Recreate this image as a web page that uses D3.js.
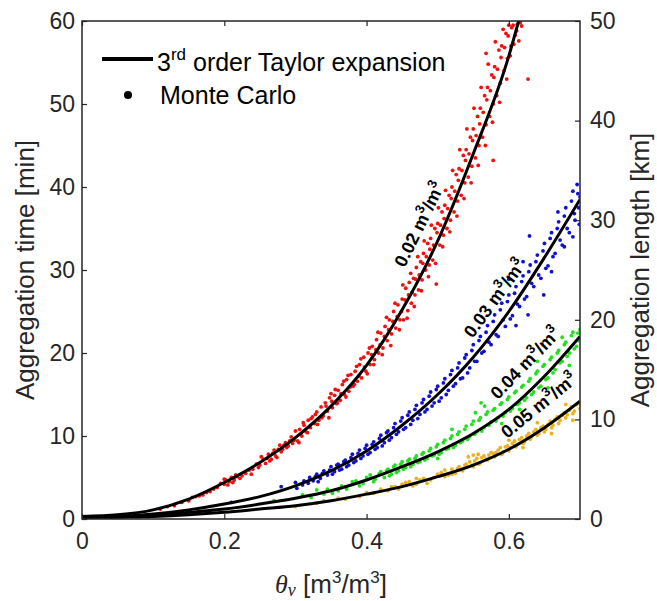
<!DOCTYPE html>
<html>
<head>
<meta charset="utf-8">
<script src="https://cdn.jsdelivr.net/npm/d3@7"></script>
<style>
  body { margin: 0; background: #fff; }
  svg { display: block; font-family: Arial, "Liberation Sans", sans-serif; }
</style>
</head>
<body>
<svg id="chart"></svg>
<script>
// canvas + plot box
var width = 657, height = 601;
var margin = {left: 82, right: 77, top: 21, bottom: 82};

// axis ticks
var xTicks = [0, 0.2, 0.4, 0.6];
var timeTicks = [0, 10, 20, 30, 40, 50, 60];
var lengthTicks = [0, 10, 20, 30, 40, 50];

// series names (sigma of theta) and colours
var seriesLabels = ["0.02", "0.03", "0.04", "0.05"];
var seriesColors = ["#f01010", "#1010d0", "#20e020", "#edb120"];

// 3rd order Taylor expansion curves, [theta, time in min]
var taylor002 = [[0,0.3],[0.05,0.5],[0.1,1.1],[0.15,2.4],[0.2,4.4],[0.25,6.8],[0.3,9.8],[0.35,13.6],[0.4,18.5],[0.45,25.2],[0.5,33.5],[0.55,44],[0.6,55.8],[0.62,62]];
var taylor003 = [[0,0.2],[0.05,0.3],[0.1,0.6],[0.15,1.1],[0.2,1.8],[0.25,2.7],[0.3,4.0],[0.35,5.8],[0.4,8.2],[0.45,11.3],[0.5,15.0],[0.55,19.5],[0.6,25.0],[0.65,31.5],[0.7,38.5]];
var taylor004 = [[0,0.15],[0.05,0.25],[0.1,0.45],[0.15,0.8],[0.2,1.2],[0.25,1.8],[0.3,2.5],[0.35,3.4],[0.4,4.7],[0.45,6.3],[0.5,8.1],[0.55,10.3],[0.6,13.2],[0.65,17.2],[0.7,22.0]];
var taylor005 = [[0,0.1],[0.05,0.2],[0.1,0.3],[0.15,0.5],[0.2,0.8],[0.25,1.2],[0.3,1.6],[0.35,2.2],[0.4,3.0],[0.45,3.9],[0.5,5.1],[0.55,6.5],[0.6,8.4],[0.65,11.0],[0.7,14.2]];

// Monte Carlo samples, [theta, time in min]
var mc002 = [
  [0.12,1.5],[0.13,1.6],[0.14,2.0],[0.155,2.6],[0.16,2.7],[0.17,2.9],[0.18,3.3],[0.19,3.8],[0.2,4.2],[0.202,4.7],
  [0.207,4.5],[0.21,5.0],[0.214,4.7],[0.218,5.1],[0.222,4.9],[0.23,5.5],[0.24,6.0],[0.245,6.6],[0.25,6.5],[0.255,7.2],
  [0.26,7.3],[0.264,7.0],[0.268,7.9],[0.272,7.6],[0.276,8.4],[0.28,8.1],[0.284,8.9],[0.288,8.6],[0.292,9.4],[0.296,9.1],
  [0.3,10.6],[0.303,9.4],[0.306,10.8],[0.309,10.0],[0.312,11.3],[0.315,10.5],[0.318,11.9],[0.321,11.0],[0.324,12.3],[0.327,11.5],
  [0.33,12.9],[0.333,11.9],[0.336,13.5],[0.339,12.4],[0.342,14.0],[0.345,13.0],[0.348,14.6],[0.35,15.1],[0.352,13.4],[0.355,14.9],
  [0.358,13.9],[0.36,15.5],[0.363,14.3],[0.366,16.2],[0.369,15.0],[0.372,16.8],[0.375,15.4],[0.378,17.4],[0.381,16.0],[0.384,17.8],
  [0.387,16.6],[0.39,18.6],[0.393,17.0],[0.396,19.5],[0.399,17.8],[0.402,20.0],[0.405,18.6],[0.408,20.8],[0.411,19.2],[0.414,21.6],
  [0.417,20.0],[0.42,22.4],[0.423,20.6],[0.426,23.2],[0.429,21.5],[0.432,24.0],[0.435,22.3],[0.438,25.0],[0.441,23.0],[0.444,25.8],
  [0.447,24.0],[0.45,26.5],[0.452,24.0],[0.455,27.8],[0.458,25.1],[0.46,28.5],[0.463,26.0],[0.466,29.0],[0.468,27.0],[0.47,30.3],
  [0.473,27.6],[0.476,31.0],[0.478,28.8],[0.48,32.0],[0.483,30.0],[0.486,33.2],[0.488,30.6],[0.49,33.8],[0.493,31.2],[0.496,35.0],
  [0.498,28.3],[0.5,35.6],[0.503,33.0],[0.506,37.0],[0.508,34.2],[0.51,37.8],[0.513,35.0],[0.516,39.0],[0.518,36.0],[0.52,40.0],
  [0.523,37.0],[0.526,41.5],[0.528,38.3],[0.53,42.2],[0.533,39.0],[0.536,43.8],[0.538,40.5],[0.54,44.5],[0.543,41.2],[0.546,46.0],
  [0.548,42.5],[0.55,47.0],[0.553,43.5],[0.556,48.5],[0.558,45.0],[0.56,49.5],[0.563,46.0],[0.566,51.0],[0.568,56.1],[0.568,47.5],
  [0.57,52.0],[0.573,48.5],[0.576,53.5],[0.578,43.2],[0.578,50.0],[0.58,54.5],[0.583,51.0],[0.586,56.5],[0.588,52.5],[0.59,57.0],
  [0.593,54.0],[0.596,58.5],[0.598,55.5],[0.6,59.5],[0.603,57.0],[0.606,59.5],[0.609,58.3],[0.612,59.6],[0.616,59.8],[0.627,53.0]
];
var mc002more = [
  [0.11,1.2],[0.15,2.2],[0.165,2.8],[0.175,3.2],[0.185,3.6],[0.195,4.3],[0.2,4.8],[0.205,4.1],[0.212,4.4],[0.216,5.3],
  [0.225,5.2],[0.235,5.9],[0.238,5.4],[0.248,6.2],[0.252,7.5],[0.258,6.7],[0.262,7.8],[0.266,7.2],[0.27,8.3],[0.274,7.4],
  [0.278,8.9],[0.282,8.4],[0.286,9.2],[0.29,8.8],[0.294,9.9],[0.298,9.5],
  [0.305,9.2],[0.311,11.6],[0.317,10.4],[0.322,12.1],[0.328,12.6],[0.331,11.4],[0.337,12.2],[0.343,13.6],[0.347,12.2],[0.351,14.2],
  [0.356,15.6],[0.359,14.0],[0.364,15.1],[0.368,16.6],[0.371,14.7],[0.374,17.3],[0.377,15.9],[0.383,16.2],[0.386,18.4],[0.389,17.2],
  [0.392,19.3],[0.397,18.3],[0.401,17.5],[0.404,20.6],[0.407,19.8],[0.41,18.6],[0.413,20.4],[0.416,22.5],[0.419,21.0],[0.422,19.8],
  [0.425,22.0],[0.428,24.3],[0.431,22.8],[0.434,20.9],[0.437,23.8],[0.44,26.0],[0.443,24.4],[0.446,22.8],[0.449,25.0],[0.451,28.2],
  [0.454,26.4],[0.457,24.2],[0.459,27.0],[0.462,29.6],[0.464,27.3],[0.467,25.6],[0.469,28.9],[0.472,31.6],[0.474,29.4],[0.477,27.5],
  [0.479,30.8],[0.481,33.5],[0.484,31.6],[0.487,29.2],[0.489,32.5],[0.491,35.4],[0.494,33.0],[0.497,30.8],[0.499,34.5],[0.501,37.5],
  [0.504,35.4],[0.507,32.8],[0.509,36.2],[0.511,39.6],[0.514,37.4],[0.517,34.6],[0.519,38.6],[0.521,42.0],[0.524,39.5],[0.527,36.5],
  [0.529,40.8],[0.531,44.5],[0.534,42.0],[0.537,38.6],[0.539,43.2],[0.541,47.0],[0.544,44.0],[0.547,40.5],[0.549,45.6],[0.551,49.5],
  [0.554,46.2],[0.557,42.6],[0.559,47.6],[0.561,52.0],[0.564,49.0],[0.567,45.0],[0.569,50.5],[0.571,54.8],[0.574,51.6],[0.577,47.8],
  [0.579,53.2],[0.581,57.5],[0.584,54.2],[0.587,50.2],[0.589,55.6],[0.592,59.0],[0.594,56.8],[0.597,53.0],[0.599,58.2],[0.602,55.8],
  [0.604,59.2],[0.607,57.2],[0.611,58.8],[0.614,57.6],[0.618,59.4]
];
var mc003 = [
  [0.21,2.0],[0.28,3.9],[0.3,4.4],[0.31,4.1],[0.32,5.0],[0.325,4.6],[0.33,5.4],[0.335,4.9],[0.34,5.8],[0.345,5.3],
  [0.35,6.3],[0.355,5.7],[0.36,6.6],[0.365,6.0],[0.37,7.1],[0.375,6.5],[0.38,7.8],[0.385,7.0],[0.39,8.3],[0.395,7.6],
  [0.4,8.9],[0.405,8.0],[0.41,9.3],[0.415,8.6],[0.42,10.1],[0.425,9.2],[0.43,10.6],[0.435,9.8],[0.44,11.5],[0.445,10.5],
  [0.45,12.2],[0.455,11.0],[0.46,12.9],[0.465,11.9],[0.47,13.7],[0.475,12.6],[0.48,14.4],[0.485,13.2],[0.49,15.3],[0.495,14.0],
  [0.5,16.0],[0.505,14.6],[0.51,16.9],[0.515,15.5],[0.52,17.9],[0.525,16.3],[0.53,18.8],[0.535,17.0],[0.54,19.8],[0.545,18.2],
  [0.55,21.0],[0.555,19.0],[0.56,22.0],[0.565,20.2],[0.57,23.3],[0.575,21.0],[0.58,24.6],[0.585,22.0],[0.59,26.0],[0.595,23.2],
  [0.6,27.0],[0.605,24.5],[0.61,28.0],[0.615,25.6],[0.62,29.3],[0.625,26.8],[0.627,24.6],[0.629,34.1],[0.63,30.6],[0.635,28.0],
  [0.64,31.8],[0.645,29.0],[0.649,27.0],[0.65,33.2],[0.655,30.5],[0.66,34.5],[0.665,32.0],[0.669,37.0],[0.67,35.8],[0.675,33.0],
  [0.678,32.8],[0.68,37.5],[0.685,34.5],[0.69,39.5],[0.693,36.0],[0.696,40.3],[0.698,37.5],[0.7,38.8]
];
var mc003more = [
  [0.302,3.7],[0.312,4.6],[0.318,4.3],[0.328,5.1],[0.332,4.5],[0.338,5.5],[0.348,5.9],[0.352,5.4],[0.358,6.5],[0.362,5.9],
  [0.368,6.9],[0.372,6.3],[0.378,7.4],[0.382,6.8],[0.388,7.9],[0.392,7.3],[0.398,8.5],[0.402,7.8],[0.408,9.0],[0.412,8.4],
  [0.418,9.7],[0.422,8.8],[0.428,10.4],[0.432,9.5],[0.438,11.0],[0.442,10.2],[0.448,11.8],[0.452,10.8],[0.458,12.5],[0.462,11.4],
  [0.468,13.2],[0.472,12.1],[0.478,14.0],[0.482,12.9],[0.488,14.8],[0.492,13.6],[0.498,15.6],[0.502,14.2],[0.508,16.4],[0.512,15.0],
  [0.518,17.4],[0.522,16.0],[0.528,18.2],[0.532,16.9],[0.538,19.4],[0.542,17.6],[0.548,20.3],[0.552,19.0],[0.558,21.5],[0.562,20.0],
  [0.568,22.5],[0.572,21.3],[0.578,23.8],[0.582,22.2],[0.588,25.2],[0.592,24.0],[0.598,26.2],[0.602,24.1],[0.608,27.2],[0.612,25.9],
  [0.618,28.6],[0.622,26.5],[0.628,29.8],[0.632,28.4],[0.638,31.0],[0.642,29.4],[0.648,32.3],[0.652,30.2],[0.658,33.8],[0.662,31.6],
  [0.668,35.0],[0.672,33.6],[0.678,36.5],[0.682,35.0],[0.688,38.3],[0.692,36.8],[0.697,39.2],[0.699,35.5],
  [0.6,28.9],[0.61,23.3],[0.66,29.8],[0.62,31.0],[0.69,34.0]
];
var mc004 = [
  [0.27,2.2],[0.33,3.5],[0.34,3.0],[0.36,3.4],[0.38,4.5],[0.39,4.0],[0.4,5.0],[0.41,4.5],[0.42,5.7],[0.425,5.0],
  [0.43,6.0],[0.435,5.4],[0.44,6.5],[0.445,5.8],[0.45,6.9],[0.455,6.2],[0.46,7.2],[0.465,6.6],[0.47,7.6],[0.475,6.9],
  [0.48,8.0],[0.485,7.3],[0.49,8.5],[0.495,7.7],[0.5,9.0],[0.505,8.0],[0.51,9.5],[0.515,8.5],[0.52,10.0],[0.525,8.9],
  [0.53,10.5],[0.535,9.4],[0.54,11.2],[0.545,9.9],[0.55,11.8],[0.555,10.5],[0.56,12.2],[0.561,14.0],[0.565,11.0],[0.57,12.9],
  [0.575,11.7],[0.58,13.3],[0.585,12.2],[0.59,14.0],[0.595,12.8],[0.6,14.7],[0.605,13.3],[0.61,15.4],[0.615,14.0],[0.62,16.1],
  [0.625,14.6],[0.63,16.9],[0.635,15.3],[0.64,17.8],[0.645,16.0],[0.65,18.6],[0.655,17.0],[0.66,19.5],[0.665,18.0],[0.67,20.3],
  [0.675,19.0],[0.68,21.3],[0.685,20.0],[0.69,22.5],[0.695,20.8],[0.698,21.5],[0.7,22.8]
];
var mc004more = [
  [0.31,2.9],[0.322,2.6],[0.345,3.6],[0.352,3.1],[0.365,4.0],[0.372,3.6],[0.385,4.6],[0.395,4.3],[0.405,5.3],[0.412,4.8],
  [0.418,5.5],[0.428,5.8],[0.432,5.2],[0.438,6.3],[0.442,5.6],[0.448,6.6],[0.452,6.0],[0.458,7.0],[0.462,6.3],[0.468,7.3],
  [0.472,6.8],[0.478,7.8],[0.482,7.1],[0.488,8.2],[0.492,7.6],[0.498,8.7],[0.502,7.8],[0.508,9.2],[0.512,8.4],[0.518,9.7],
  [0.522,8.6],[0.528,10.2],[0.532,9.2],[0.538,10.8],[0.542,9.6],[0.548,11.4],[0.552,10.2],[0.558,11.9],[0.562,10.6],[0.568,12.6],
  [0.572,11.3],[0.578,13.1],[0.582,11.8],[0.588,13.8],[0.592,12.4],[0.598,14.4],[0.602,13.0],[0.608,15.2],[0.612,13.8],[0.618,15.9],
  [0.622,14.3],[0.628,16.6],[0.632,15.0],[0.638,17.5],[0.642,15.8],[0.648,18.4],[0.652,16.8],[0.658,19.2],[0.662,17.6],[0.668,20.0],
  [0.672,18.8],[0.678,21.0],[0.682,19.6],[0.688,22.1],[0.692,20.5],[0.697,22.4],
  [0.553,12.8],[0.566,13.6],[0.59,11.5],[0.615,13.2],[0.64,19.0],[0.655,15.8],[0.675,21.9],[0.685,18.5],[0.52,10.8],[0.5,7.3]
];
var mc005 = [
  [0.3,1.5],[0.34,2.2],[0.37,2.4],[0.4,3.2],[0.42,3.6],[0.44,3.9],[0.45,4.2],[0.46,4.5],[0.47,4.2],[0.48,4.9],
  [0.49,4.7],[0.5,5.4],[0.51,5.1],[0.52,6.0],[0.525,5.5],[0.53,6.3],[0.535,5.8],[0.54,6.6],[0.545,6.9],[0.55,6.3],
  [0.555,7.3],[0.56,6.8],[0.565,7.6],[0.57,7.1],[0.575,8.0],[0.58,7.5],[0.585,8.3],[0.59,7.8],[0.595,8.7],[0.6,8.2],
  [0.605,9.1],[0.61,8.7],[0.615,9.6],[0.62,9.1],[0.625,10.0],[0.63,9.6],[0.635,10.5],[0.64,10.1],[0.645,11.0],[0.65,10.5],
  [0.655,11.4],[0.66,11.0],[0.665,12.0],[0.67,11.5],[0.675,12.5],[0.68,12.2],[0.685,13.1],[0.69,12.7],[0.695,13.8],[0.7,13.3]
];
var mc005more = [
  [0.33,1.9],[0.36,2.5],[0.39,2.7],[0.41,3.1],[0.43,3.4],[0.435,3.9],[0.445,3.6],[0.455,4.4],[0.465,4.0],[0.475,4.7],
  [0.485,4.3],[0.495,5.0],[0.505,5.6],[0.515,5.3],[0.52,5.4],[0.528,6.1],[0.532,5.9],[0.538,6.5],[0.548,6.5],[0.552,7.0],
  [0.558,6.6],[0.562,7.4],[0.568,7.2],[0.572,7.7],[0.578,7.9],[0.582,8.0],[0.588,8.6],[0.592,8.1],[0.598,8.8],[0.602,8.6],
  [0.608,9.4],[0.612,9.0],[0.618,9.8],[0.622,9.3],[0.628,10.3],[0.632,9.9],[0.638,10.8],[0.642,10.3],[0.648,11.2],[0.652,10.8],
  [0.658,11.8],[0.662,11.3],[0.668,12.3],[0.672,11.9],[0.678,12.8],[0.682,12.6],[0.688,13.5],[0.692,13.0],[0.698,13.9],
  [0.543,7.5],[0.55,7.7],[0.557,7.8],[0.6,9.5],[0.62,8.6],[0.64,11.6],[0.66,10.3],[0.68,13.8],[0.69,11.9],[0.51,5.9],[0.47,4.9]
];

// where the inline curve labels sit: [theta, time, angle]
var labelSpots = [[0.474,35.5,-64],[0.58,26.6,-54],[0.623,18.8,-46],[0.642,13.7,-39]];

var curves = [taylor002, taylor003, taylor004, taylor005];
var samples = [mc002.concat(mc002more), mc003.concat(mc003more), mc004.concat(mc004more), mc005.concat(mc005more)];

var axisColor = "#262626";

var svg = d3.select("#chart")
  .attr("width", width)
  .attr("height", height);

var x = d3.scaleLinear().domain([0, 0.7]).range([margin.left, width - margin.right]);
var yTime = d3.scaleLinear().domain([0, 60]).range([height - margin.bottom, margin.top]);
var yLength = d3.scaleLinear().domain([0, 50]).range([height - margin.bottom, margin.top]);

svg.append("defs").append("clipPath").attr("id", "plotclip")
  .append("rect")
    .attr("x", margin.left).attr("y", margin.top)
    .attr("width", width - margin.left - margin.right)
    .attr("height", height - margin.top - margin.bottom);

var plot = svg.append("g").attr("clip-path", "url(#plotclip)");

// scatter first so the black curves sit on top
samples.forEach(function(pts, i) {
  plot.append("g")
    .selectAll("circle")
    .data(pts)
    .enter().append("circle")
      .attr("cx", function(d) { return x(d[0]); })
      .attr("cy", function(d) { return yTime(d[1]); })
      .attr("r", 1.9)
      .attr("fill", seriesColors[i]);
});

var line = d3.line()
  .x(function(d) { return x(d[0]); })
  .y(function(d) { return yTime(d[1]); })
  .curve(d3.curveMonotoneX);

curves.forEach(function(c) {
  plot.append("path")
    .datum(c)
    .attr("d", line)
    .attr("fill", "none")
    .attr("stroke", "#000")
    .attr("stroke-width", 3);
});

// curve labels, bold, rotated along the curve
labelSpots.forEach(function(s, i) {
  var t = svg.append("text")
    .attr("transform", "translate(" + x(s[0]) + "," + yTime(s[1]) + ") rotate(" + s[2] + ")")
    .attr("text-anchor", "middle")
    .attr("dy", "0.35em")
    .attr("font-size", 18)
    .attr("font-weight", "bold")
    .attr("fill", "#000");
  t.append("tspan").text(seriesLabels[i] + " m");
  t.append("tspan").attr("dy", -8).attr("font-size", 13).text("3");
  t.append("tspan").attr("dy", 8).text("/m");
  t.append("tspan").attr("dy", -8).attr("font-size", 13).text("3");
});

// axes
function styleAxis(g) {
  g.select(".domain").remove();
  g.selectAll(".tick line").attr("stroke", axisColor).attr("stroke-width", 1.2);
  g.selectAll(".tick text").attr("fill", axisColor).attr("font-size", 23)
    .attr("font-family", "Arial, 'Liberation Sans', sans-serif");
}

svg.append("g")
  .attr("transform", "translate(0," + (height - margin.bottom) + ")")
  .call(d3.axisBottom(x).tickValues(xTicks).tickSizeInner(-5).tickSizeOuter(0).tickPadding(14)
    .tickFormat(function(d) { return d; }))
  .call(styleAxis);

svg.append("g")
  .attr("transform", "translate(0," + margin.top + ")")
  .call(d3.axisTop(x).tickValues(xTicks).tickSizeInner(-5).tickSizeOuter(0).tickFormat(""))
  .call(styleAxis);

svg.append("g")
  .attr("transform", "translate(" + margin.left + ",0)")
  .call(d3.axisLeft(yTime).tickValues(timeTicks).tickSizeInner(-5).tickSizeOuter(0).tickPadding(7))
  .call(styleAxis);

svg.append("g")
  .attr("transform", "translate(" + (width - margin.right) + ",0)")
  .call(d3.axisRight(yLength).tickValues(lengthTicks).tickSizeInner(-5).tickSizeOuter(0).tickPadding(10))
  .call(styleAxis);

// box
svg.append("rect")
  .attr("x", margin.left).attr("y", margin.top)
  .attr("width", width - margin.left - margin.right)
  .attr("height", height - margin.top - margin.bottom)
  .attr("fill", "none")
  .attr("stroke", axisColor)
  .attr("stroke-width", 1.5);

// axis labels
var midY = (margin.top + height - margin.bottom) / 2;
svg.append("text")
  .attr("transform", "translate(34," + midY + ") rotate(-90)")
  .attr("text-anchor", "middle")
  .attr("font-size", 26)
  .attr("fill", axisColor)
  .text("Aggregation time [min]");

svg.append("text")
  .attr("transform", "translate(" + (width - 8) + "," + midY + ") rotate(-90)")
  .attr("text-anchor", "middle")
  .attr("font-size", 26)
  .attr("fill", axisColor)
  .text("Aggregation length [km]");

var xl = svg.append("text")
  .attr("x", (margin.left + width - margin.right) / 2)
  .attr("y", 593)
  .attr("text-anchor", "middle")
  .attr("font-size", 26)
  .attr("fill", axisColor);
xl.append("tspan").attr("font-family", "'Liberation Serif', serif").attr("font-style", "italic").text("θ");
xl.append("tspan").attr("font-family", "'Liberation Serif', serif").attr("font-style", "italic")
  .attr("font-size", 18).attr("dy", 3).text("v");
xl.append("tspan").attr("dy", -3).text(" [m");
xl.append("tspan").attr("font-size", 17).attr("dy", -10).text("3");
xl.append("tspan").attr("dy", 10).text("/m");
xl.append("tspan").attr("font-size", 17).attr("dy", -10).text("3");
xl.append("tspan").attr("dy", 10).text("]");

// legend
var leg = svg.append("g");
leg.append("line")
  .attr("x1", 102).attr("x2", 153).attr("y1", 59).attr("y2", 59)
  .attr("stroke", "#000").attr("stroke-width", 4);
var lt = leg.append("text").attr("x", 157).attr("y", 71).attr("font-size", 25).attr("fill", "#000");
lt.append("tspan").text("3");
lt.append("tspan").attr("font-size", 17).attr("dy", -11).text("rd");
lt.append("tspan").attr("dy", 11).text(" order Taylor expansion");
leg.append("circle").attr("cx", 128).attr("cy", 95).attr("r", 4).attr("fill", "#000");
leg.append("text").attr("x", 160).attr("y", 104).attr("font-size", 25).attr("fill", "#000").text("Monte Carlo");
</script>
</body>
</html>
